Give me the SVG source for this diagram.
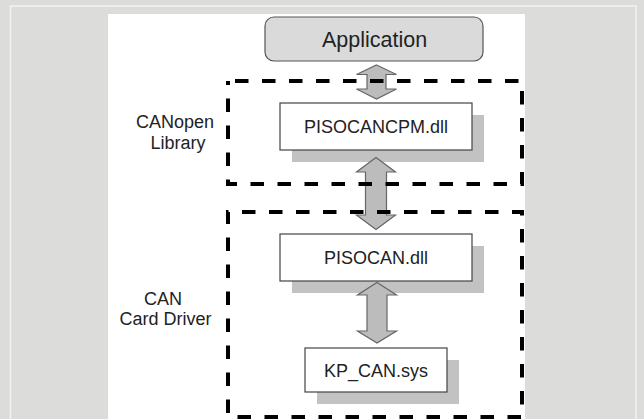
<svg xmlns="http://www.w3.org/2000/svg" width="644" height="419" viewBox="0 0 644 419">
<style>
  .lbl { font-family: "Liberation Sans", Arial, sans-serif; font-size: 18px; fill: #222; }
  .node { fill: #fff; stroke: #444; stroke-width: 1.2; }
  .shadow { fill: #c2c2c2; }
  .arrow { fill: #bcbcbc; stroke: #666; stroke-width: 1.2; stroke-linejoin: miter; }
  .dash { fill: none; stroke: #000; stroke-width: 4; stroke-dasharray: 13.5 13.5; }
</style>
<rect x="0" y="0" width="644" height="419" fill="#dcdcda"/>
<rect x="10.5" y="6" width="625.5" height="430" fill="none" stroke="#f2f2f2" stroke-width="1.5"/>
<rect x="108" y="14" width="417" height="410" fill="#fff"/>

<g id="application">
  <rect x="265" y="17" width="218" height="44" rx="9" ry="9" fill="#dadada" stroke="#555" stroke-width="1.2"/>
  <text class="lbl" x="374.5" y="47" text-anchor="middle" style="font-size:21.5px">Application</text>
</g>

<g id="pisocancpm">
  <rect class="shadow" x="292" y="115" width="192" height="47"/>
  <rect class="node" x="280" y="103" width="192" height="47"/>
  <text class="lbl" x="376" y="133" text-anchor="middle">PISOCANCPM.dll</text>
</g>

<g id="pisocan">
  <rect class="shadow" x="292" y="246" width="192" height="47"/>
  <rect class="node" x="280" y="234" width="192" height="47"/>
  <text class="lbl" x="376" y="264" text-anchor="middle">PISOCAN.dll</text>
</g>

<g id="kpcan">
  <rect class="shadow" x="317" y="360" width="142" height="44"/>
  <rect class="node" x="305" y="348" width="142" height="44"/>
  <text class="lbl" x="376" y="376.5" text-anchor="middle">KP_CAN.sys</text>
</g>

<g id="connectors">
  <polygon class="arrow" points="376.5,65 396.5,74.5 386,74.5 386,89 396.5,89 376.5,99 356.5,89 367,89 367,74.5 356.5,74.5"/>
  <polygon class="arrow" points="376,157.5 395.5,172 386.5,172 386.5,215 395.5,215 376,229.5 356.5,215 365.5,215 365.5,172 356.5,172"/>
  <polygon class="arrow" points="377,282.5 396.5,295 387,295 387,331 396.5,331 377,343 357.5,331 367,331 367,295 357.5,295"/>
</g>

<g id="group-canopen">
  <rect class="dash" x="228" y="81" width="294" height="103" stroke-dashoffset="20"/>
  <text class="lbl" x="175" y="127.5" text-anchor="middle">CANopen</text>
  <text class="lbl" x="178" y="149" text-anchor="middle">Library</text>
</g>

<g id="group-can-driver">
  <rect class="dash" x="228" y="212" width="294" height="205" stroke-dashoffset="13"/>
  <text class="lbl" x="163" y="304.5" text-anchor="middle">CAN</text>
  <text class="lbl" x="165.5" y="325" text-anchor="middle">Card Driver</text>
</g>
</svg>
